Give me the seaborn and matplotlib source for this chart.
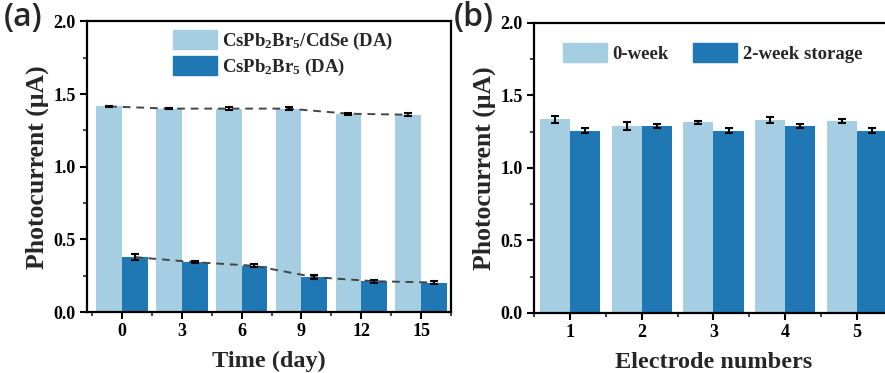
# Photocurrent stability bar charts (a) time series, (b) electrode reproducibility

import pandas as pd
import matplotlib
matplotlib.use("Agg")
import matplotlib.pyplot as plt
from matplotlib.ticker import MultipleLocator
from matplotlib.patches import Patch
import seaborn as sns

# Data
days = ["0", "3", "6", "9", "12", "15"]
cdse_vals = [1.415, 1.400, 1.400, 1.400, 1.365, 1.358]
cdse_err = [0.006, 0.005, 0.008, 0.012, 0.006, 0.010]
bare_vals = [0.378, 0.343, 0.318, 0.240, 0.212, 0.203]
bare_err = [0.020, 0.005, 0.010, 0.015, 0.010, 0.010]

electrodes = ["1", "2", "3", "4", "5"]
week0_vals = [1.336, 1.290, 1.315, 1.330, 1.322]
week0_err = [0.025, 0.030, 0.010, 0.020, 0.015]
week2_vals = [1.258, 1.288, 1.258, 1.288, 1.258]
week2_err = [0.020, 0.015, 0.020, 0.015, 0.020]

label_cdse = r"CsPb$_\mathregular{2}$Br$_\mathregular{5}$/CdSe (DA)"
label_bare = r"CsPb$_\mathregular{2}$Br$_\mathregular{5}$ (DA)"
label_w0 = "0-week"
label_w2 = "2-week storage"

# Style
sns.set_style("ticks")
plt.rcParams['font.family'] = ['Liberation Serif', 'DejaVu Serif']
plt.rcParams['font.weight'] = 'bold'
plt.rcParams['mathtext.fontset'] = 'custom'
plt.rcParams['mathtext.rm'] = 'Liberation Serif:bold'
plt.rcParams['mathtext.it'] = 'Liberation Serif:bold'
plt.rcParams['mathtext.bf'] = 'Liberation Serif:bold'
colors = sns.color_palette("Paired")[:2]

df_a = pd.DataFrame({
    "day": days * 2,
    "value": cdse_vals + bare_vals,
    "sample": [label_cdse] * len(days) + [label_bare] * len(days),
})
df_b = pd.DataFrame({
    "electrode": electrodes * 2,
    "value": week0_vals + week2_vals,
    "storage": [label_w0] * len(electrodes) + [label_w2] * len(electrodes),
})

fig = plt.figure(figsize=(8.85, 3.73), dpi=100)
ax1 = fig.add_axes([0.0983, 0.1635, 0.4113, 0.779])
ax2 = fig.add_axes([0.6034, 0.1609, 0.4055, 0.7775])


def style_axes(ax):
    ax.set_ylim(0, 2.0)
    ax.yaxis.set_major_locator(MultipleLocator(0.5))
    ax.yaxis.set_minor_locator(MultipleLocator(0.25))
    ax.xaxis.set_minor_locator(MultipleLocator(1.0, offset=0.5))
    ax.yaxis.set_major_formatter(matplotlib.ticker.FormatStrFormatter('%.1f'))
    for s in ax.spines.values():
        s.set_linewidth(1.6)
        s.set_color('black')
        s.set_visible(True)
    ax.tick_params(which='major', direction='out', length=5, width=1.5,
                   labelsize=13, colors='black', pad=3)
    ax.tick_params(which='minor', direction='out', length=3, width=1.2)
    ax.tick_params(top=False, right=False, which='both')
    ax.set_ylabel("Photocurrent (\u03bcA)", fontsize=18.5, fontweight='bold', labelpad=3)


# (a)
sns.barplot(data=df_a, x="day", y="value", hue="sample", order=days,
            hue_order=[label_cdse, label_bare], palette=colors, saturation=1,
            width=0.86, errorbar=None, linewidth=0, ax=ax1)
for cont, vals, errs in zip(ax1.containers, [cdse_vals, bare_vals], [cdse_err, bare_err]):
    xs = [p.get_x() + p.get_width() / 2 for p in cont.patches]
    ax1.plot(xs, vals, ls='--', color='#444444', lw=1.4, dashes=(4, 3), zorder=3)
    ax1.errorbar(xs, vals, yerr=errs, fmt='none', ecolor='black', elinewidth=1.5,
                 capsize=3, capthick=1.5, zorder=4)
ax1.set_xlim(-0.585, 5.5)
style_axes(ax1)
ax1.set_xlabel("Time (day)", fontsize=17.5, fontweight='bold', labelpad=8)
ax1.legend(handles=[Patch(color=colors[0]), Patch(color=colors[1])],
           labels=[label_cdse, label_bare], loc='upper left',
           bbox_to_anchor=(0.225, 0.985), frameon=False, fontsize=13.5,
           handlelength=2.35, handleheight=1.2, handletextpad=0.3,
           labelspacing=0.25, borderpad=0.2, borderaxespad=0)

# (b)
sns.barplot(data=df_b, x="electrode", y="value", hue="storage", order=electrodes,
            hue_order=[label_w0, label_w2], palette=colors, saturation=1,
            width=0.84, errorbar=None, linewidth=0, ax=ax2)
for cont, vals, errs in zip(ax2.containers, [week0_vals, week2_vals], [week0_err, week2_err]):
    xs = [p.get_x() + p.get_width() / 2 for p in cont.patches]
    ax2.errorbar(xs, vals, yerr=errs, fmt='none', ecolor='black', elinewidth=1.5,
                 capsize=3, capthick=1.5, zorder=4)
ax2.set_xlim(-0.5, 4.5)
style_axes(ax2)
ax2.set_xlabel("Electrode numbers", fontsize=17.5, fontweight='bold', labelpad=8)
ax2.legend(handles=[Patch(color=colors[0]), Patch(color=colors[1])],
           labels=[label_w0, label_w2], loc='upper left', ncol=2,
           bbox_to_anchor=(0.07, 0.945), frameon=False, fontsize=13.5,
           handlelength=2.35, handleheight=1.2, handletextpad=0.3,
           columnspacing=1.3, borderpad=0.2, borderaxespad=0)

# panel letters
fig.text(0.004, 0.93, "(a)", fontsize=23, family='Open Sans', fontweight='semibold')
fig.text(0.513, 0.93, "(b)", fontsize=23, family='Open Sans', fontweight='semibold')

fig.savefig("out.png", dpi=100)
